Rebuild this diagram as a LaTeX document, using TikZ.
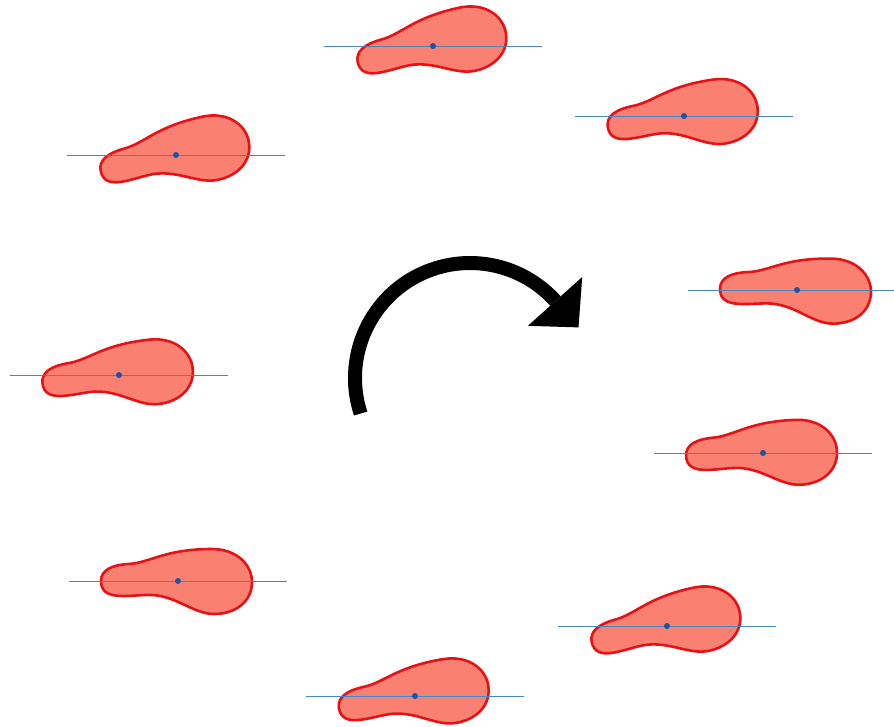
\documentclass[tikz,border=0pt]{standalone}
\usepackage{tikz}
\usetikzlibrary{calc}
\definecolor{blobred}{RGB}{232,18,22}
\definecolor{blobfill}{RGB}{250,128,114}
\definecolor{axisblue}{RGB}{70,135,195}
\definecolor{dotblue}{RGB}{25,85,165}
\begin{document}
\begin{tikzpicture}[x=1pt,y=-1pt,
  blob/.style={draw=blobred,fill=blobfill,line width=2.6pt,line join=round},
  axisline/.style={draw=axisblue,line width=1pt},
  turn/.style={line width=14pt,black}]
\useasboundingbox (0,0) rectangle (894,726);
% cells with their horizontal axis
\foreach \x/\y/\a [count=\i] in {433/46/12, 684/116/8, 176/155/12, 797/290/-1, 119/375/6,
    763/453/2, 667/626/12, 178/581/0, 415/696/9} {
  \coordinate (c\i) at (\x,\y);
  \draw[blob,shift={(c\i)},rotate=\a] (-77,0)
    .. controls (-77,-11) and (-66,-16) .. (-50,-17)
    .. controls (-28,-18) and (-14,-32) .. (34,-32)
    .. controls (59,-32) and (74,-16) .. (74,1)
    .. controls (74,21) and (57,33) .. (36,33)
    .. controls (16,33) and (0,16) .. (-25,14)
    .. controls (-46,13) and (-77,22) .. (-77,0) -- cycle;
  \coordinate (l\i) at ([xshift=-109pt]c\i);
  \coordinate (r\i) at ([xshift=109pt]c\i);
  \draw[axisline] (l\i) -- (r\i);
  \fill[dotblue] (c\i) circle[radius=3];
}
% rotation arrow
\coordinate (o) at (470,378);
\draw[turn] ($(o)+(162:115)$) arc[start angle=162,end angle=318,radius=115];
\fill ($(o)+(318:78)$) -- ($(o)+(318:151)$) -- ($(o)+(318:114.5)+(48:35)$) -- cycle;
\end{tikzpicture}
\end{document}
